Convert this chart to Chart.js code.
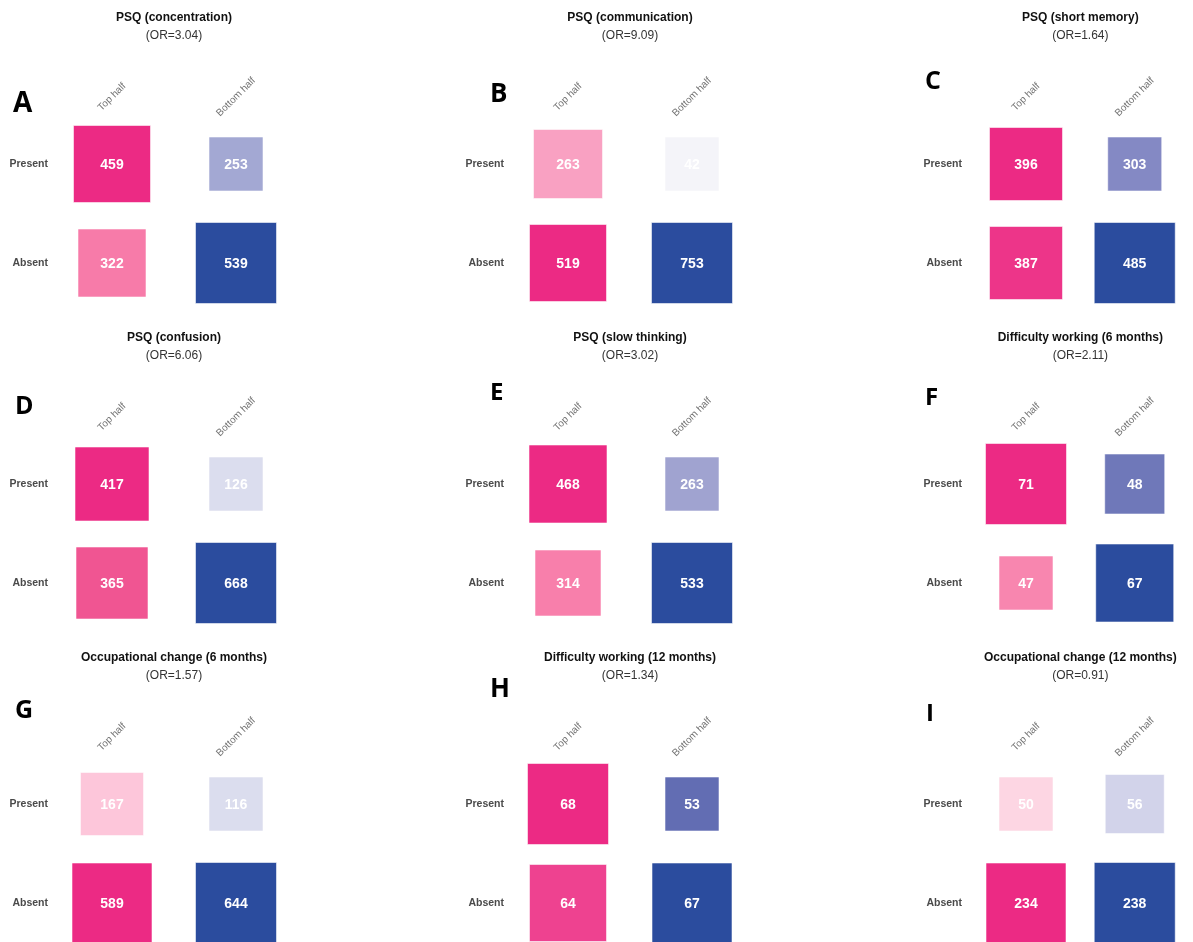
<!DOCTYPE html>
<html>
<head>
<meta charset="utf-8">
<script src="https://cdn.jsdelivr.net/npm/chart.js@4"></script>
<style>
  html, body { margin: 0; padding: 0; background: #fff; }
  #page { position: relative; width: 1193px; height: 942px; overflow: hidden; }
  #page canvas { position: absolute; }
</style>
</head>
<body>
<div id="page"></div>
<script>
// ---- data ----
const titles = [
  'PSQ (concentration)', 'PSQ (communication)', 'PSQ (short memory)',
  'PSQ (confusion)', 'PSQ (slow thinking)', 'Difficulty working (6 months)',
  'Occupational change (6 months)', 'Difficulty working (12 months)', 'Occupational change (12 months)'
];
const oddsRatios = [3.04, 9.09, 1.64, 6.06, 3.02, 2.11, 1.57, 1.34, 0.91];
const letters = ['A', 'B', 'C', 'D', 'E', 'F', 'G', 'H', 'I'];
const columns = ['Top half', 'Bottom half'];
const rows = ['Present', 'Absent'];

// counts: [Present/Top, Present/Bottom, Absent/Top, Absent/Bottom]
const concentration = [459, 253, 322, 539];
const communication = [263, 42, 519, 753];
const shortMemory = [396, 303, 387, 485];
const confusion = [417, 126, 365, 668];
const slowThinking = [468, 263, 314, 533];
const difficulty6 = [71, 48, 47, 67];
const occupation6 = [167, 116, 589, 644];
const difficulty12 = [68, 53, 64, 67];
const occupation12 = [50, 56, 234, 238];
const panelCounts = [concentration, communication, shortMemory, confusion, slowThinking,
  difficulty6, occupation6, difficulty12, occupation12];

// ---- styles ----
const squareSide = [
  [77, 54, 68, 81], [69, 54, 77, 81], [73, 54, 73, 81],
  [74, 54, 72, 81], [78, 54, 66, 81], [81, 60, 54, 78],
  [63, 54, 80, 81], [81, 54, 77, 80], [54, 59, 80, 81]
];
const fills = [
  ['#EC2A84', '#A3A8D3', '#F77BA9', '#2B4C9E'],
  ['#F9A1C2', '#F4F4F9', '#EC2A84', '#2B4C9E'],
  ['#EC2A84', '#8489C4', '#ED3589', '#2B4C9E'],
  ['#EC2A84', '#DBDDEE', '#F05592', '#2B4C9E'],
  ['#EC2A84', '#A0A3D0', '#F87FAB', '#2B4C9E'],
  ['#EC2A84', '#6F78B9', '#F886AF', '#2B4C9E'],
  ['#FDC6DA', '#DBDDEE', '#EC2A84', '#2B4C9E'],
  ['#EC2A84', '#626DB3', '#EE4290', '#2B4C9E'],
  ['#FDD6E3', '#D2D3EA', '#EC2A84', '#2B4C9E']
];
const letterPos = [
  [13, 112, 28], [34, 102, 26], [11, 89, 25],
  [15, 94, 25], [34, 80, 24], [11, 85, 24],
  [15, 78, 25], [34, 57, 26], [12, 81, 24]
];
const colLeft = [0, 456, 914];
const rowTop = [0, 320, 640];
const PAGE_W = 1193;
const CANVAS_H = 340;

Chart.defaults.font.family = '"Liberation Sans", Arial, sans-serif';

const panelText = {
  id: 'panelText',
  afterDatasetsDraw(chart, args, opts) {
    const { ctx, chartArea, scales } = chart;
    const cx = (chartArea.left + chartArea.right) / 2;
    ctx.save();
    ctx.textAlign = 'center';
    ctx.textBaseline = 'middle';
    ctx.fillStyle = '#111';
    ctx.font = 'bold 12px "Liberation Sans"';
    ctx.fillText(opts.title, cx, 18);
    ctx.fillStyle = '#333';
    ctx.font = '12px "Liberation Sans"';
    ctx.fillText('(OR=' + opts.or.toFixed(2) + ')', cx, 36);

    // column labels, rotated
    ctx.fillStyle = '#737373';
    ctx.font = '10px "Liberation Sans"';
    columns.forEach((c, i) => {
      ctx.save();
      ctx.translate(scales.x.getPixelForValue(i), chartArea.top - 67);
      ctx.rotate(-Math.PI / 4);
      ctx.fillText(c, 0, 0);
      ctx.restore();
    });

    // counts in the squares
    ctx.fillStyle = '#fff';
    ctx.font = 'bold 14px "Liberation Sans"';
    chart.getDatasetMeta(0).data.forEach((pt, i) => {
      ctx.fillText(String(opts.counts[i]), pt.x, pt.y + 1);
    });

    // panel letter
    ctx.textAlign = 'left';
    ctx.textBaseline = 'alphabetic';
    ctx.fillStyle = '#000';
    ctx.font = `bold ${opts.letter[2]}px "Open Sans"`;
    ctx.fillText(opts.letterText, opts.letter[0], opts.letter[1]);
    ctx.restore();
  }
};

const page = document.getElementById('page');

panelCounts.forEach((counts, p) => {
  const left = colLeft[p % 3], top = rowTop[Math.floor(p / 3)];
  const w = Math.min(457, PAGE_W - left), h = CANVAS_H;
  const canvas = document.createElement('canvas');
  canvas.width = w; canvas.height = h;
  canvas.style.left = left + 'px';
  canvas.style.top = top + 'px';
  canvas.style.width = w + 'px';
  canvas.style.height = h + 'px';
  page.appendChild(canvas);

  new Chart(canvas, {
    type: 'scatter',
    data: {
      datasets: [{
        data: counts.map((n, i) => ({ x: columns[i % 2], y: rows[Math.floor(i / 2)], n })),
        pointStyle: 'rect',
        pointRadius: squareSide[p].map(s => s / Math.SQRT2),
        pointBackgroundColor: fills[p],
        pointBorderColor: 'rgba(255,255,255,0.55)',
        pointBorderWidth: 1,
        clip: false
      }]
    },
    options: {
      responsive: false,
      animation: false,
      events: [],
      layout: { padding: { left: 0, top: 164, right: w - 236, bottom: h - 263 } },
      scales: {
        x: { type: 'category', labels: columns, offset: false, display: false },
        y: {
          type: 'category', labels: rows, offset: false, position: 'left',
          grid: { display: false, drawTicks: false },
          border: { display: false },
          ticks: { color: '#4a4a4a', padding: 64, font: { size: 10.5, weight: 'bold' } },
          afterFit: s => { s.width = 112; }
        }
      },
      plugins: {
        legend: { display: false },
        tooltip: { enabled: false },
        panelText: {
          title: titles[p], or: oddsRatios[p], counts,
          letterText: letters[p], letter: letterPos[p]
        }
      }
    },
    plugins: [panelText]
  });
});
</script>
</body>
</html>
